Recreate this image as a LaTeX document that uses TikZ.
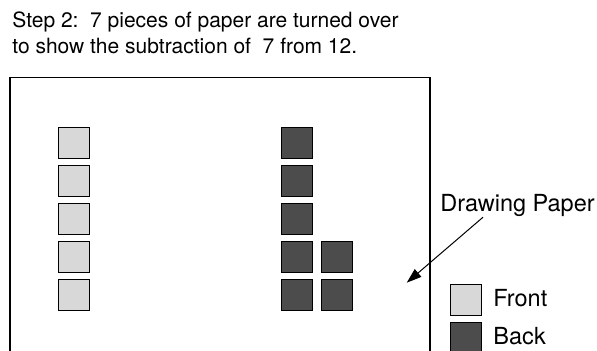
\documentclass[tikz,border=0pt]{standalone}
\usepackage{fontspec}
\setmainfont{TeX Gyre Heros}
\usepackage{tikz}
\usetikzlibrary{arrows.meta,positioning}
\definecolor{frontgray}{HTML}{D8D8D8}
\definecolor{backgray}{HTML}{4C4C4C}
\tikzset{
  sheet/.style={draw, rectangle, line width=0.5pt, minimum size=15.5pt, inner sep=0pt, anchor=north west},
  front/.style={sheet, fill=frontgray},
  back/.style={sheet, fill=backgray},
  heading/.style={anchor=base west, inner sep=0pt, align=left, font=\fontsize{10.5}{13}\selectfont},
  label/.style={anchor=base west, inner sep=0pt, font=\fontsize{11.75}{14}\selectfont},
  arr/.style={-{Triangle[length=7.5pt, width=5pt]}, line width=0.5pt}
}
\begin{document}
\begin{tikzpicture}[x=0.5pt, y=-0.5pt]
\useasboundingbox (0,0) rectangle (597,350);

% base anchor sits on the last line
\node[heading] (step) at (12,53.5) {Step 2:\ \ 7 pieces of paper are turned over\\to show the subtraction of\ \ 7 from 12.};

% the drawing paper, open at the bottom
\draw[line width=0.75pt] (10,360) |- (430,77.5) -- (430,360);

% pieces still showing the front
\node[front] (f1) at (58,127) {};
\node[front] (f2) at (58,165) {};
\node[front] (f3) at (58,203) {};
\node[front] (f4) at (58,241) {};
\node[front] (f5) at (58,279) {};

% pieces turned over
\node[back] (b1) at (281,127) {};
\node[back] (b2) at (281,165) {};
\node[back] (b3) at (281,203) {};
\node[back] (b4) at (281,241) {};
\node[back] (b5) at (281,279) {};
\node[back] (b6) at (321,241) {};
\node[back] (b7) at (321,279) {};

\node[label] (paper) at (440,211.7) {Drawing Paper};
\coordinate (tip) at (406.7,282.7);
\draw[arr] ([xshift=21.5pt]paper.south west) -- (tip);

% legend
\node[front] (keyfront) at (450,284) {};
\node[back] (keyback) at (450,322) {};
\node[label] (frontlbl) at (493,306) {Front};
\node[label] (backlbl) at (493,344) {Back};
\end{tikzpicture}
\end{document}
